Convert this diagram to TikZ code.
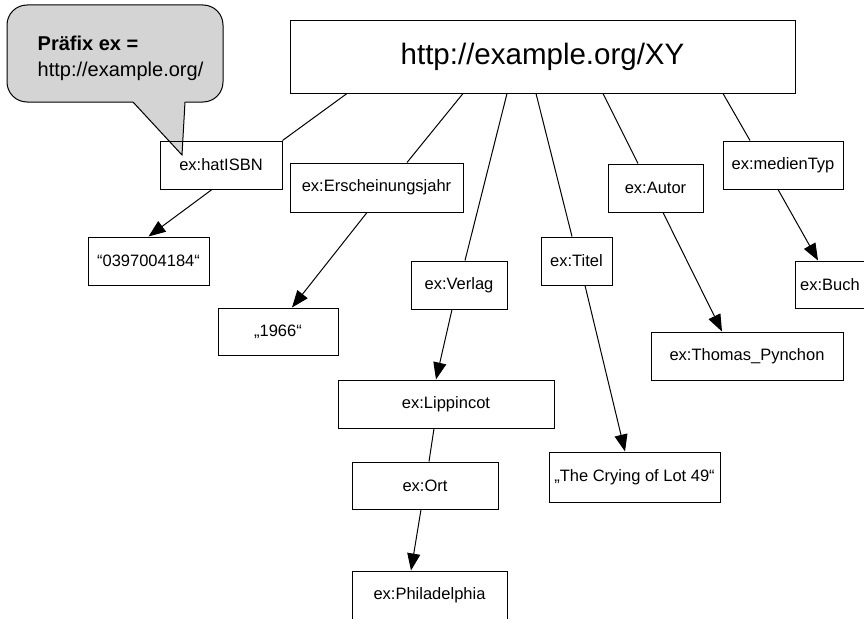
\documentclass[tikz,border=0pt]{standalone}
\usepackage{fontspec}
\setmainfont{Liberation Sans}
\usepackage{tikz}
\usetikzlibrary{positioning, arrows, arrows.meta, shapes}
\definecolor{notegray}{HTML}{D4D4D4}
\tikzstyle{arrow} = [line width=1pt,-{Triangle[length=17pt,width=13pt]}]

\begin{document}
\begin{tikzpicture}[x=1pt,y=-1pt]
                \tikzstyle{every node}=[font=\fontsize{16.5}{20}\selectfont]
                \tikzstyle{res} = [draw=black, line width=1pt, rectangle, inner sep=0pt, minimum height=48pt]
                \tikzstyle{link} = [line width=1pt]

                \useasboundingbox (0,0) rectangle (864,618);

                % callout with the prefix
                \draw[fill=notegray, line width=1pt, rounded corners=20pt] (7,5) rectangle (223,102);
                \fill[notegray] (133,100) -- (185,100) -- (185,103) -- (182,155) -- (133,103) -- cycle;
                \draw[line width=1pt] (133,102) -- (182,155) -- (185,102);
                \node[align=left, font=\fontsize{20}{26}\selectfont](note) at (120.5,58) {\textbf{Präfix ex =}\\http://example.org/};

                % subject
                \node[res, minimum width=505pt, minimum height=72pt, font=\fontsize{29.5}{34}\selectfont](xy) at (542.5,57) {http://example.org/XY};

                % properties
                \node[res, minimum width=122pt](isbn) at (221,165) {ex:hatISBN};
                \node[res, minimum width=173pt, minimum height=49pt](jahr) at (376.5,187.5) {ex:Erscheinungsjahr};
                \node[res, minimum width=96pt](verlag) at (459,285) {ex:Verlag};
                \node[res, minimum width=71pt](titel) at (576.5,261) {ex:Titel};
                \node[res, minimum width=95pt](autor) at (655.5,188) {ex:Autor};
                \node[res, minimum width=120pt](typ) at (783,165) {ex:medienTyp};
                \node[res, minimum width=146pt, minimum height=47pt](ort) at (425,485.5) {ex:Ort};

                % objects
                \node[res, minimum width=121pt](isbnval) at (148.5,261) {“0397004184“};
                \node[res, minimum width=120pt, minimum height=47pt](jahrval) at (278,331.5) {„1966“};
                \node[res, minimum width=216pt](lippincot) at (446,404) {ex:Lippincot};
                \node[res, minimum width=155pt](phila) at (429.5,595) {ex:Philadelphia};
                \node[res, minimum width=171pt, minimum height=50pt](titelval) at (634.5,477) {„The Crying of Lot 49“};
                \node[res, minimum width=192pt](pynchon) at (747,356) {ex:Thomas\_Pynchon};
                \node[res, minimum width=70pt, minimum height=47pt](buch) at (830,284.5) {ex:Buch};

                % subject to properties
                \draw[link] ([xshift=-195.5pt]xy.south) -- (isbn.north east);
                \draw[link] ([xshift=-79.5pt]xy.south) -- ([xshift=30.5pt]jahr.north);
                \draw[link] ([xshift=-35.5pt]xy.south) -- ([xshift=6pt]verlag.north);
                \draw[link] ([xshift=-6.5pt]xy.south) -- ([xshift=-4.5pt]titel.north);
                \draw[link] ([xshift=60.5pt]xy.south) -- ([xshift=-17.5pt]autor.north);
                \draw[link] ([xshift=180.5pt]xy.south) -- ([xshift=-33pt]typ.north);

                % properties to objects
                \draw[arrow] ([xshift=-9pt]isbn.south) -- (isbnval.north);
                \draw[arrow] ([xshift=-9.5pt]jahr.south) -- ([xshift=14pt]jahrval.north);
                \draw[arrow] ([xshift=-7pt]verlag.south) -- ([xshift=-10pt]lippincot.north);
                \draw[link] ([xshift=-12pt]lippincot.south) -- ([xshift=4pt]ort.north);
                \draw[arrow] ([xshift=-4pt]ort.south) -- ([xshift=-18.5pt]phila.north);
                \draw[arrow] ([xshift=8.5pt]titel.south) -- ([xshift=-9.5pt]titelval.north);
                \draw[arrow] ([xshift=7.5pt]autor.south) -- ([xshift=-25pt]pynchon.north);
                \draw[arrow] ([xshift=-5pt]typ.south) -- ([xshift=-12pt]buch.north);

        \end{tikzpicture}
\end{document}
